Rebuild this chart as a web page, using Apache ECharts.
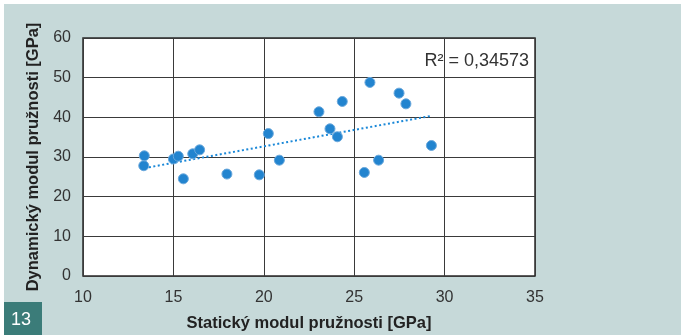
<!DOCTYPE html>
<html>
<head>
<meta charset="utf-8">
<script src="https://cdn.jsdelivr.net/npm/echarts@6/dist/echarts.min.js"></script>
<style>
html,body{margin:0;padding:0;background:#ffffff;}
#bg{position:absolute;left:4px;top:4px;width:677px;height:331px;background:#c6d9d9;}
#chart{position:absolute;left:0;top:0;width:688px;height:335px;}
</style>
</head>
<body>
<div id="bg"></div>
<div id="chart"></div>
<script>
// Data
const staticModulus = [13.36, 13.39, 15.0, 15.27, 16.07, 16.45, 15.55, 17.96, 19.75, 20.25, 20.86, 23.05, 23.66, 24.07, 24.34, 25.56, 25.87, 26.35, 27.48, 27.86, 29.27];
const dynamicModulus = [27.8, 30.3, 29.5, 30.2, 30.8, 31.8, 24.5, 25.7, 25.5, 35.9, 29.2, 41.4, 37.1, 35.1, 44.0, 26.1, 48.8, 29.2, 46.1, 43.4, 32.9];
const trendX = [13.4, 29.3];
const trendY = [27.2, 40.4];
const xTicks = [10, 15, 20, 25, 30, 35];
const yTicks = [0, 10, 20, 30, 40, 50, 60];
const rSquaredLabel = 'R² = 0,34573';
const xTitle = 'Statický modul pružnosti [GPa]';
const yTitle = 'Dynamický modul pružnosti [GPa]';
const figureNumber = '13';

const chart = echarts.init(document.getElementById('chart'), null, {renderer: 'canvas'});
const font = 'Liberation Sans, Arial, Helvetica, sans-serif';
chart.setOption({
  animation: false,
  backgroundColor: 'transparent',
  grid: {left: 83, right: 153, top: 38, bottom: 59, containLabel: false, outerBoundsMode: 'none', show: true, backgroundColor: '#ffffff', borderColor: '#2a2a2a', borderWidth: 1.5},
  xAxis: {
    type: 'value', min: xTicks[0], max: xTicks[xTicks.length-1], interval: 5,
    axisLine: {show: false}, axisTick: {show: false},
    splitLine: {lineStyle: {color: '#3a3a3a', width: 1}},
    axisLabel: {color: '#333', fontSize: 16, fontFamily: font, margin: 14},
    name: xTitle, nameLocation: 'middle', nameGap: 39,
    nameTextStyle: {color: '#222', fontSize: 16.5, fontWeight: 'bold', fontFamily: font}
  },
  yAxis: {
    type: 'value', min: yTicks[0], max: yTicks[yTicks.length-1], interval: 10,
    axisLine: {show: false}, axisTick: {show: false},
    splitLine: {lineStyle: {color: '#3a3a3a', width: 1}},
    axisLabel: {color: '#333', fontSize: 16, fontFamily: font, margin: 12},
    name: yTitle, nameLocation: 'middle', nameGap: 32,
    nameTextStyle: {color: '#222', fontSize: 16.5, fontWeight: 'bold', fontFamily: font}
  },
  series: [
    {
      type: 'line', data: trendX.map((x, i) => [x, trendY[i]]), symbol: 'none', silent: true,
      lineStyle: {color: '#1a88d8', width: 2, type: [2, 2.5]}, z: 2
    },
    {
      type: 'scatter', data: staticModulus.map((x, i) => [x, dynamicModulus[i]]),
      symbolSize: 10,
      itemStyle: {color: '#2284cf', borderColor: '#6aa8dc', borderWidth: 1, opacity: 1}, z: 3
    }
  ],
  graphic: [
    {type: 'text', right: 688 - 529, top: 52, style: {text: rSquaredLabel, font: '18px ' + font, fill: '#333', textAlign: 'right'}},
    {type: 'rect', left: 4, top: 302, shape: {width: 38, height: 33}, style: {fill: '#3b7c79'}},
    {type: 'text', left: 11, top: 311, style: {text: figureNumber, font: '18px ' + font, fill: '#ffffff'}}
  ]
});
</script>
</body>
</html>
